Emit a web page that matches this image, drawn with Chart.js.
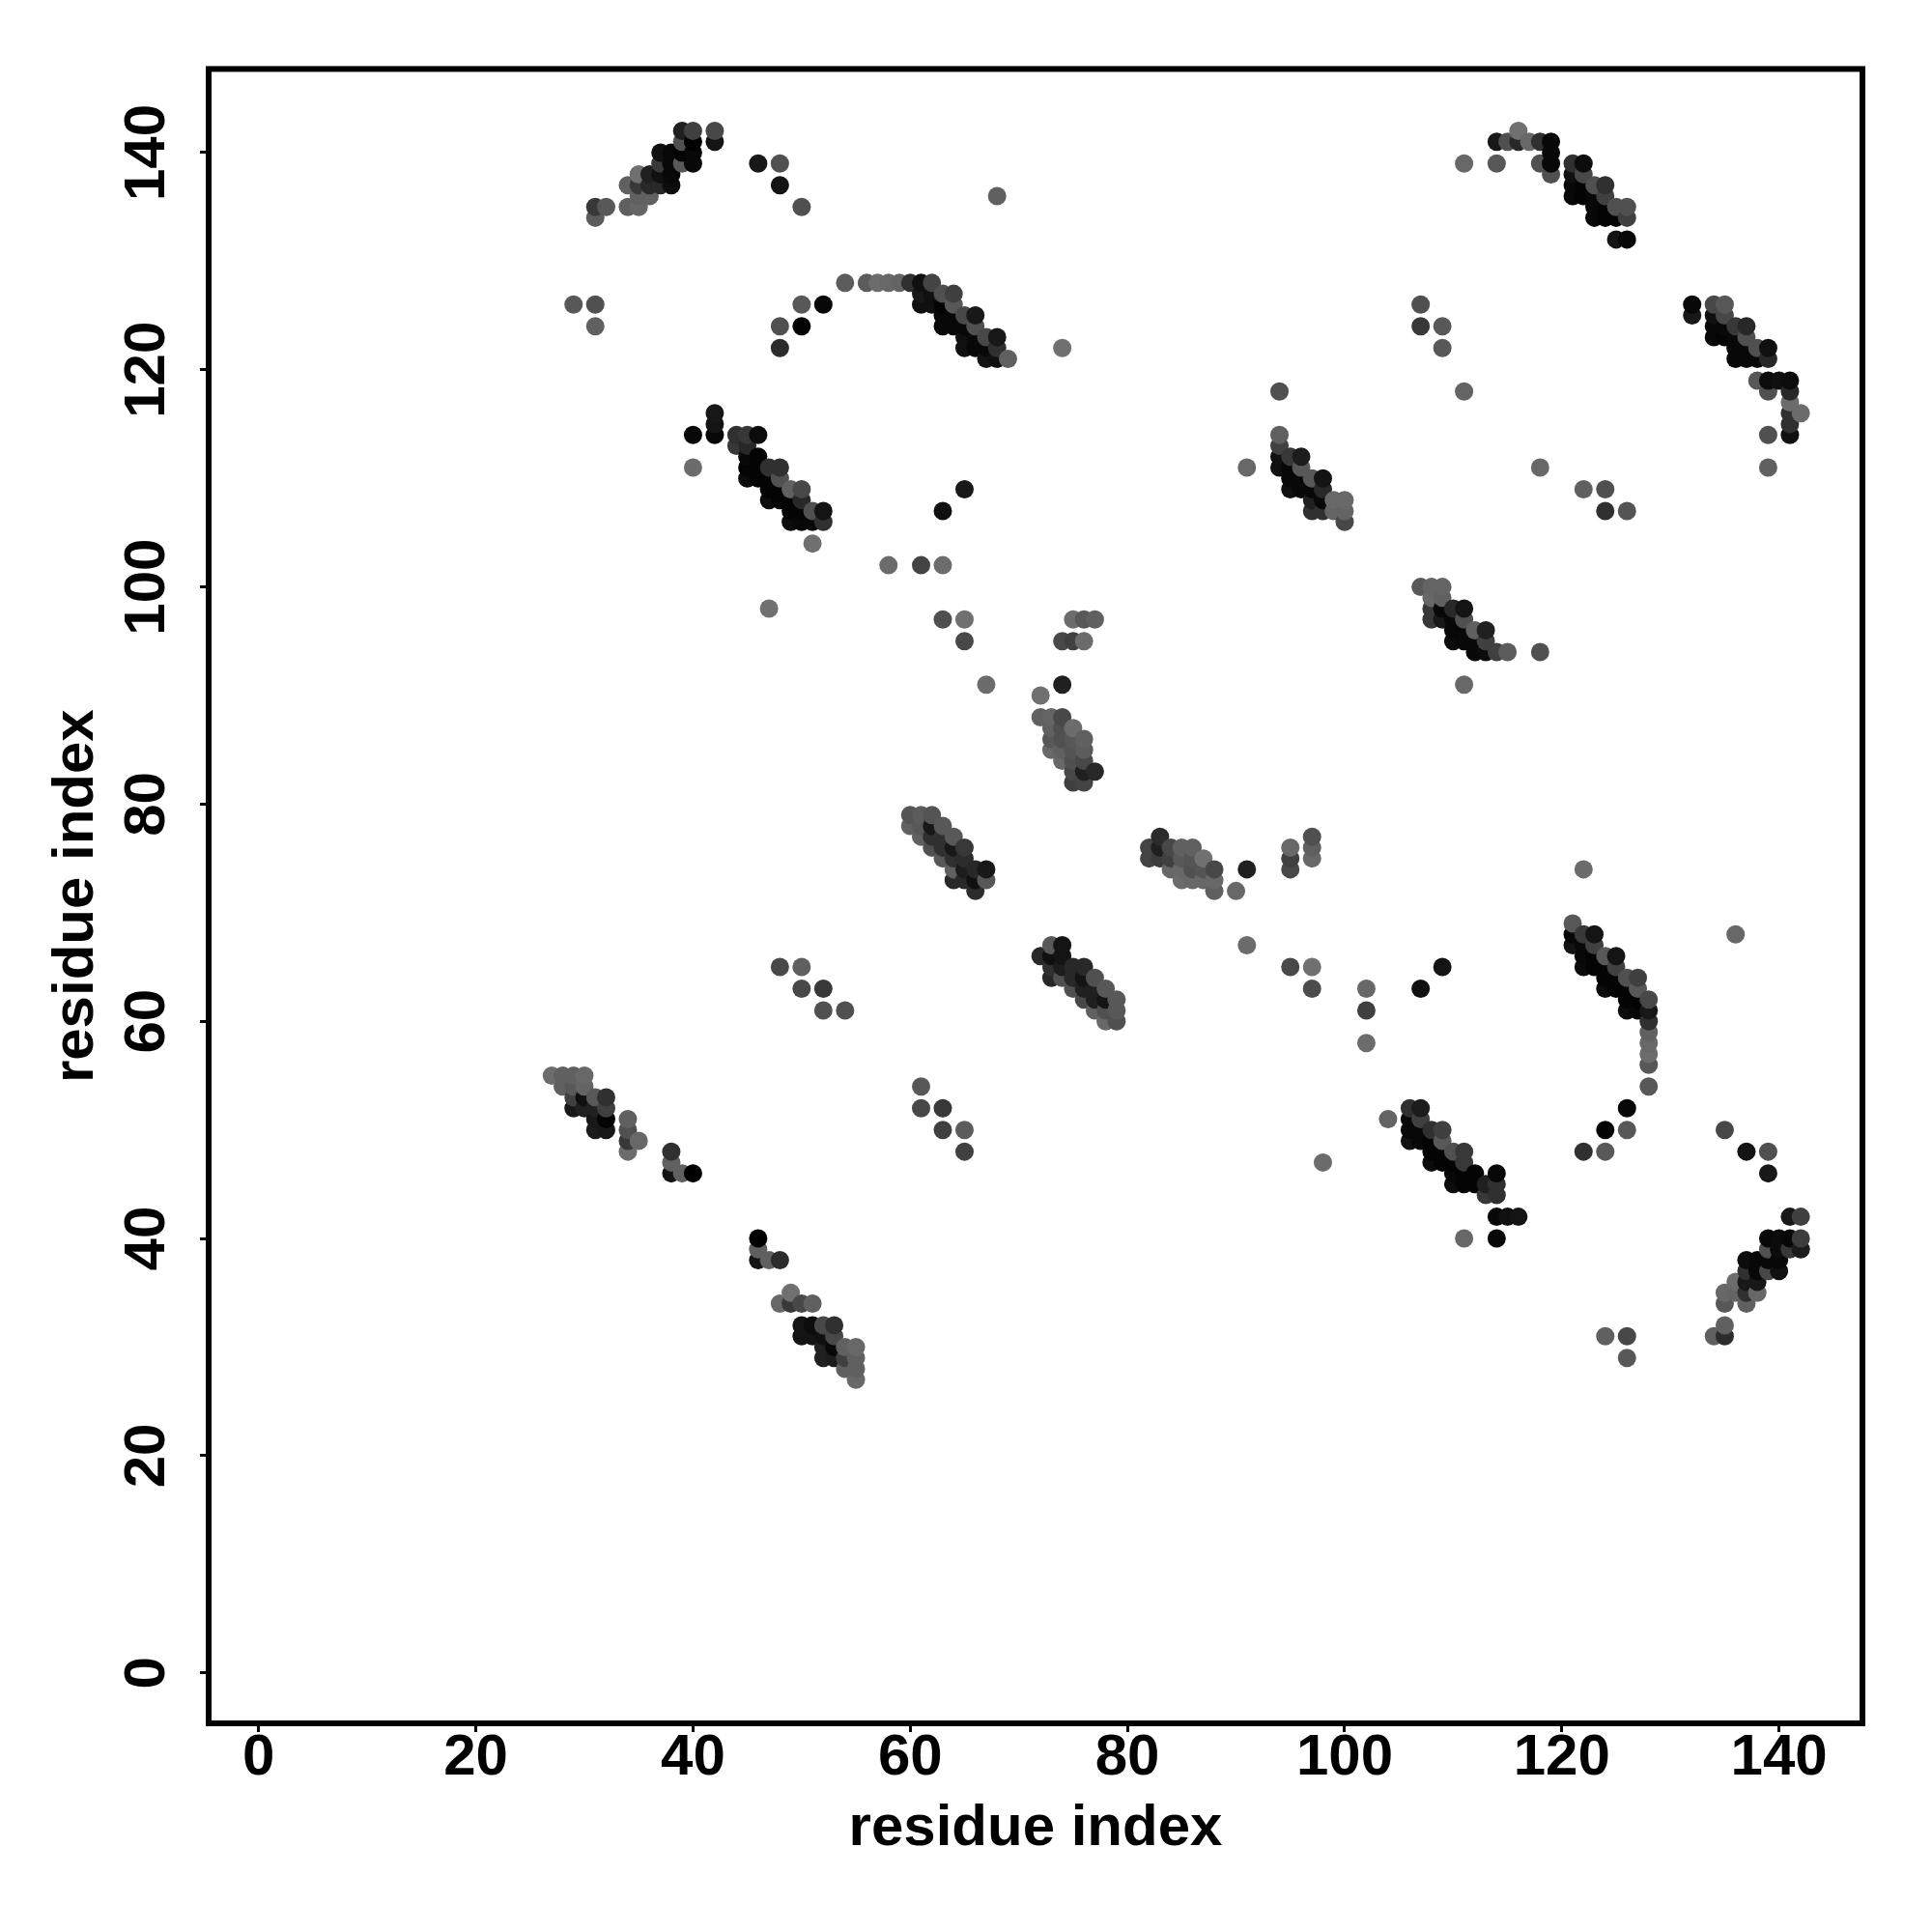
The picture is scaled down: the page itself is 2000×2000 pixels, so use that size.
<!DOCTYPE html>
<html>
<head>
<meta charset="utf-8">
<title>residue index contact map</title>
<script src="https://cdn.jsdelivr.net/npm/chart.js@4"></script>
<style>
  html, body { margin: 0; padding: 0; background: #fff; }
  canvas { display: block; }
</style>
</head>
<body>
<canvas id="grafico" width="2000" height="2000"></canvas>
<script>
// one entry per x residue, points drawn low y first so overlaps stack like the original
var columnX = [27,28,29,30,31,32,34,35,36,37,38,39,40,42,44,45,46,47,48,49,50,51,52,53,54,55,56,57,58,59,60,61,62,63,64,65,66,67,68,69,
  72,73,74,75,76,77,78,79,82,83,84,85,86,87,88,90,91,94,95,96,97,98,99,100,102,104,106,107,108,109,110,111,112,113,114,115,116,117,118,119,
  121,122,123,124,125,126,127,128,132,134,135,136,137,138,139,140,141,142];

var columnY = [
  [55],[54,55],[52,53,54,55,126],[52,53,54,55],[50,51,52,53,124,126,134,135],[50,51,52,53,135],
  [48,49,50,51,135,137],[49,135,136,137,138],[136,137,138],[137,138,139,140],[46,47,48,137,138,139,140],
  [46,139,140,141,142],[46,111,114,139,140,141,142],[114,115,116,141,142],[113,114],[110,111,112,113,114],
  [38,39,40,110,111,112,114,139],[38,98,108,109,110,111],[34,38,65,108,109,110,111,122,124,137,139],[34,35,106,107,108,109],
  [31,32,34,63,65,106,107,108,109,124,126,135],[31,32,34,104,106,107],[29,30,31,32,61,63,106,107,126],[29,30,31,32],
  [28,29,30,61,128],[27,28,29,30],[128],[128],[102,128],[128],
  [78,79,128],[52,54,77,78,79,102,126,127,128],[76,77,78,79,126,127,128],[50,52,75,76,77,78,97,102,107,124,125,126,127],
  [73,74,75,76,77,124,125,126,127],[48,50,73,74,75,76,95,97,109,122,123,124,125],[72,73,74,122,123,124,125],[73,74,91,121,122,123],
  [121,122,123,136],[121],
  [66,88,90],[64,65,66,67,85,86,87,88],[64,65,66,67,84,85,86,87,88,91,95,122],[63,64,65,82,83,84,85,86,87,95,97],
  [62,63,64,65,82,83,84,85,86,95,97],[61,62,63,64,83,97],[60,61,62,63],[60,61,62],
  [75,76],[75,76,77],[74,75,76],[73,74,75,76],[73,74,75,76],[73,74,75],[72,73,74],[72],[67,74,111],
  [111,112,113,114,118],[65,74,75,76,109,110,111,112],[109,110,111,112],[63,65,75,76,77,107,108,109,110],[47,107,108,109,110],
  [107,108],[106,107,108],[58,61,63],[51],[49,50,51,52],[49,50,51,52,63,100,124,126],[47,48,49,50,97,98,99,100],
  [47,48,49,50,65,97,98,99,100,122,124],[45,46,47,48,95,96,97,98],[40,45,46,47,48,91,95,96,97,98,118,139],[45,46,94,95,96],
  [44,45,94,95,96],[40,42,44,45,46,94,139,141],[42,94,141],[42,141,142],[141],[94,111,139,141],[138,139,140,141],
  [67,68,69,136,137,138,139],[48,65,66,67,68,74,109,136,137,138,139],[65,66,67,68,134,135,136,137],
  [31,48,50,63,64,65,66,107,109,134,135,136,137],[63,64,65,66,132,134,135],[29,31,50,52,61,62,63,64,107,132,134,135],[61,62,63,64],
  [54,56,57,58,59,60,61,62],[125,126],[31,123,124,125,126],[31,32,34,35,50,123,124,125,126],[35,36,68,121,122,123,124],
  [34,35,36,37,38,48,121,122,123,124],[35,36,37,38,119,121,122],[37,38,39,40,46,48,111,114,118,119,121,122],[37,38,39,40,119],
  [39,40,42,114,115,116,117,118,119],[39,40,42,116]
];

var columnGrey = [
  [0x6c],[0x60,0x60],[0x18,0x40,0x58,0x60,0x58],[0x20,0x10,0x64,0x68],[0x1c,0x18,0x20,0x58,0x60,0x50,0x5c,0x38],[0x18,0x04,0x40,0x30,0x58],
  [0x6c,0x38,0x50,0x60,0x60,0x60],[0x68,0x66,0x60,0x38,0x70],[0x60,0x28,0x20],[0x28,0x10,0x38,0x10],[0x14,0x60,0x30,0x0c,0x08,0x08,0x08],
  [0x60,0x58,0x04,0x50,0x20],[0x00,0x6c,0x08,0x08,0x08,0x00,0x40],[0x08,0x14,0x18,0x14,0x48],[0x38,0x30],[0x0c,0x04,0x08,0x28,0x38],
  [0x14,0x60,0x00,0x04,0x04,0x04,0x0c,0x18],[0x60,0x70,0x0c,0x04,0x04,0x30],[0x68,0x2c,0x48,0x04,0x04,0x50,0x30,0x2c,0x50,0x14,0x50],[0x38,0x70,0x0c,0x04,0x04,0x60],
  [0x14,0x14,0x48,0x48,0x60,0x08,0x04,0x28,0x48,0x04,0x58,0x50],[0x14,0x0c,0x60,0x70,0x08,0x50],[0x20,0x20,0x10,0x48,0x50,0x38,0x30,0x14,0x08],[0x1c,0x08,0x48,0x30],
  [0x60,0x40,0x60,0x50,0x5c],[0x68,0x60,0x60,0x68],[0x5c],[0x6c],[0x6c,0x68],[0x64],
  [0x60,0x54,0x30],[0x48,0x58,0x60,0x58,0x5c,0x44,0x10,0x18,0x10],[0x50,0x30,0x18,0x54,0x10,0x10,0x44],[0x40,0x38,0x58,0x30,0x30,0x58,0x50,0x6c,0x10,0x08,0x08,0x04,0x50],
  [0x28,0x60,0x30,0x18,0x58,0x08,0x08,0x58,0x40],[0x40,0x5c,0x28,0x1c,0x2c,0x38,0x48,0x70,0x18,0x10,0x10,0x08,0x48],[0x2c,0x10,0x28,0x08,0x08,0x50,0x18],[0x58,0x18,0x6c,0x14,0x08,0x48],
  [0x10,0x30,0x18,0x60],[0x60],
  [0x28,0x60,0x70],[0x28,0x30,0x10,0x58,0x68,0x58,0x60,0x64],[0x50,0x1c,0x14,0x14,0x68,0x60,0x50,0x50,0x48,0x20,0x48,0x70],[0x50,0x28,0x28,0x40,0x48,0x50,0x54,0x58,0x6c,0x40,0x6c],
  [0x48,0x20,0x14,0x28,0x44,0x20,0x48,0x5c,0x60,0x6c,0x58],[0x60,0x20,0x20,0x50,0x28,0x60],[0x68,0x50,0x14,0x58],[0x50,0x58,0x58],
  [0x44,0x44],[0x3c,0x20,0x2c],[0x68,0x40,0x48],[0x6c,0x68,0x58,0x60],[0x68,0x50,0x54,0x60],[0x68,0x54,0x70],[0x60,0x68,0x48],[0x68],[0x6c,0x20,0x68],
  [0x10,0x10,0x40,0x60,0x50],[0x48,0x48,0x40,0x68,0x10,0x08,0x08,0x38],[0x08,0x08,0x58,0x1c],[0x4c,0x70,0x68,0x60,0x50,0x30,0x20,0x08,0x58],[0x6c,0x30,0x08,0x28,0x14],
  [0x64,0x68],[0x48,0x64,0x68],[0x6c,0x40,0x68],[0x64],[0x10,0x08,0x08,0x30],[0x08,0x08,0x40,0x1c,0x10,0x58,0x38,0x50],[0x0c,0x04,0x04,0x30,0x38,0x38,0x68,0x64],
  [0x04,0x04,0x58,0x40,0x14,0x18,0x08,0x60,0x64,0x58,0x58],[0x0c,0x08,0x04,0x50,0x0c,0x08,0x08,0x28],[0x68,0x04,0x04,0x38,0x38,0x68,0x08,0x08,0x50,0x14,0x64,0x68],[0x04,0x04,0x08,0x08,0x60],
  [0x38,0x20,0x0c,0x40,0x20],[0x08,0x08,0x30,0x30,0x08,0x40,0x58,0x18],[0x10,0x5c,0x50],[0x14,0x28,0x70],[0x68],[0x50,0x68,0x50,0x30],[0x50,0x08,0x08,0x08],
  [0x14,0x08,0x58,0x08,0x08,0x10,0x30],[0x30,0x0c,0x08,0x08,0x38,0x6c,0x60,0x04,0x04,0x48,0x0c],[0x04,0x04,0x40,0x14,0x08,0x08,0x08,0x50],
  [0x60,0x58,0x04,0x0c,0x04,0x04,0x58,0x30,0x50,0x04,0x04,0x40,0x30],[0x04,0x04,0x40,0x14,0x14,0x04,0x50],[0x58,0x48,0x58,0x08,0x0c,0x04,0x04,0x50,0x54,0x08,0x40,0x50],[0x08,0x04,0x58,0x40],
  [0x58,0x58,0x6c,0x68,0x60,0x30,0x18,0x48],[0x18,0x08],[0x60,0x08,0x08,0x10,0x48],[0x2c,0x60,0x58,0x68,0x48,0x04,0x08,0x48,0x58],[0x64,0x6c,0x68,0x08,0x08,0x08,0x38],
  [0x60,0x30,0x18,0x30,0x0c,0x14,0x08,0x08,0x50,0x28],[0x68,0x18,0x08,0x08,0x58,0x08,0x50],[0x48,0x08,0x50,0x08,0x18,0x50,0x60,0x50,0x50,0x0c,0x28,0x10],[0x10,0x08,0x0c,0x0c,0x10],
  [0x38,0x08,0x18,0x10,0x30,0x30,0x6c,0x28,0x0c],[0x1c,0x3c,0x40,0x6c]
];

var fuente = '"Liberation Sans", Arial, sans-serif';

var puntos = [];
var colores = [];
columnX.forEach(function (x, i) {
  columnY[i].forEach(function (y, k) {
    var g = columnGrey[i][k];
    puntos.push({ x: x, y: y });
    colores.push('rgb(' + g + ',' + g + ',' + g + ')');
  });
});

// box round the plot, R style
var marco = {
  id: 'marco',
  afterDraw: function (chart) {
    var a = chart.chartArea;
    var ctx = chart.ctx;
    ctx.save();
    ctx.strokeStyle = '#000';
    ctx.lineWidth = 6;
    ctx.strokeRect(a.left, a.top, a.right - a.left, a.bottom - a.top);
    ctx.restore();
  }
};

var ctx = document.getElementById('grafico').getContext('2d');
var myChart = new Chart(ctx, {
  type: 'scatter',
  data: {
    datasets: [{
      data: puntos,
      pointRadius: 9.5,
      pointBorderWidth: 0,
      pointBackgroundColor: colores
    }]
  },
  plugins: [marco],
  options: {
    responsive: false,
    animation: false,
    layout: { padding: { top: 71.4, right: 72, left: 0, bottom: 0 } },
    plugins: { legend: { display: false }, tooltip: { enabled: false } },
    scales: {
      x: {
        type: 'linear',
        min: -4.6,
        max: 147.68,
        afterFit: function (s) { s.height = 216; },
        border: { display: false },
        grid: { drawOnChartArea: false, drawTicks: true, tickLength: 9, tickWidth: 3, tickColor: '#000' },
        ticks: {
          stepSize: 20,
          includeBounds: false,
          autoSkip: false,
          maxRotation: 0,
          minRotation: 0,
          padding: -9,
          color: '#000',
          font: { family: fuente, size: 60, weight: 'bold' }
        },
        title: {
          display: true,
          text: 'residue index',
          color: '#000',
          padding: { top: 0, bottom: 71 },
          font: { family: fuente, size: 60, weight: 'bold' }
        }
      },
      y: {
        type: 'linear',
        min: -4.65,
        max: 147.7,
        afterFit: function (s) { s.width = 216; },
        border: { display: false },
        grid: { drawOnChartArea: false, drawTicks: true, tickLength: 9, tickWidth: 3, tickColor: '#000' },
        ticks: {
          stepSize: 20,
          includeBounds: false,
          autoSkip: false,
          minRotation: 90,
          maxRotation: 90,
          crossAlign: 'center',
          padding: 3,
          color: '#000',
          font: { family: fuente, size: 60, weight: 'bold' }
        },
        title: {
          display: true,
          text: 'residue index',
          color: '#000',
          padding: { top: 43, bottom: 0 },
          font: { family: fuente, size: 60, weight: 'bold' }
        }
      }
    }
  }
});
</script>
</body>
</html>
